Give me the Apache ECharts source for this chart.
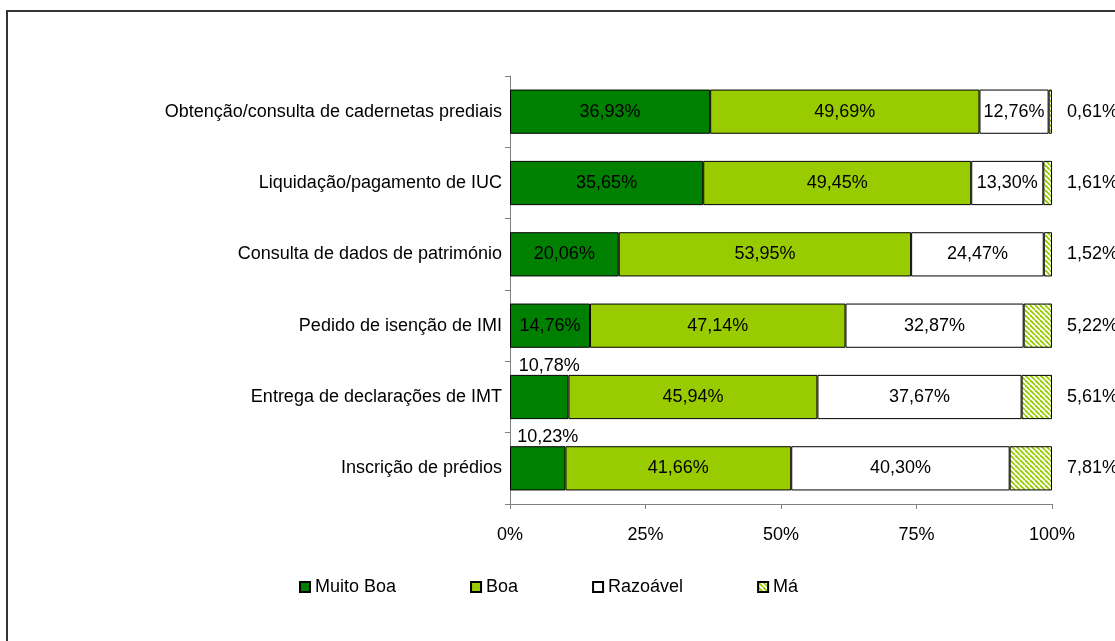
<!DOCTYPE html>
<html>
<head>
<meta charset="utf-8">
<script src="https://cdn.jsdelivr.net/npm/echarts@6/dist/echarts.min.js"></script>
<style>
    html, body { margin: 0; padding: 0; background: #fff; }
    #chart { width: 1115px; height: 641px; }
</style>
</head>
<body>
<div id="chart"></div>
<script>
const categories = [
    'Obtenção/consulta de cadernetas prediais',
    'Liquidação/pagamento de IUC',
    'Consulta de dados de património',
    'Pedido de isenção de IMI',
    'Entrega de declarações de IMT',
    'Inscrição de prédios'
]
const muitoBoa = [36.93, 35.65, 20.06, 14.76, 10.78, 10.23]
const boa = [49.69, 49.45, 53.95, 47.14, 45.94, 41.66]
const razoavel = [12.76, 13.30, 24.47, 32.87, 37.67, 40.30]
const ma = [0.61, 1.61, 1.52, 5.22, 5.61, 7.81]
const xTicks = [0, 25, 50, 75, 100]

const fontFamily = 'Liberation Sans, Arial, sans-serif'

// hatch pattern for "Má"
function hatch() {
    const s = 5
    const c = document.createElement('canvas')
    c.width = s
    c.height = s
    const ctx = c.getContext('2d')
    ctx.fillStyle = '#fff'
    ctx.fillRect(0, 0, s, s)
    ctx.strokeStyle = '#99cc00'
    ctx.lineWidth = 1.8
    for (let i = -s; i <= s; i += s) {
        ctx.beginPath()
        ctx.moveTo(i, 0)
        ctx.lineTo(i + s, s)
        ctx.stroke()
    }
    return { image: c, repeat: 'repeat' }
}

const fmt = (v) => v.toFixed(2).replace('.', ',') + '%'

const labelBase = {
    show: true,
    color: '#000',
    fontFamily: fontFamily,
    fontSize: 18,
    formatter: (p) => fmt(p.value)
}

// small segments get their label above the bar
const muitoBoaData = muitoBoa.map((v) => {
    if (v < 12) {
        return { value: v, label: { position: 'top', distance: 0, offset: [10, 0] } }
    }
    return v
})

const chart = echarts.init(document.getElementById('chart'))

const option = {
    animation: false,
    graphic: [{
        type: 'rect',
        shape: { x: 7, y: 11, width: 1300, height: 800 },
        style: { fill: 'none', stroke: '#333', lineWidth: 2 },
        z: -1
    }],
    legend: {
        left: 294,
        top: 573,
        icon: 'rect',
        itemWidth: 10,
        itemHeight: 10,
        itemGap: 74,
        textStyle: { fontFamily: fontFamily, fontSize: 18, color: '#000' },
        data: ['Muito Boa', 'Boa', 'Razoável', 'Má']
    },
    grid: {
        left: 510,
        right: 63,
        top: 76,
        bottom: 137
    },
    xAxis: {
        type: 'value',
        min: xTicks[0],
        max: xTicks[xTicks.length - 1],
        interval: 25,
        axisLine: { show: true, lineStyle: { color: '#808080', width: 1 } },
        axisTick: { show: true, length: 5, lineStyle: { color: '#808080' } },
        splitLine: { show: false },
        axisLabel: {
            margin: 22,
            color: '#000',
            fontFamily: fontFamily,
            fontSize: 18,
            formatter: '{value}%'
        }
    },
    yAxis: {
        type: 'category',
        inverse: true,
        data: categories,
        axisLine: { show: true, lineStyle: { color: '#808080', width: 1 } },
        axisTick: { show: true, length: 5, alignWithLabel: false, lineStyle: { color: '#808080' } },
        axisLabel: {
            margin: 8,
            color: '#000',
            fontFamily: fontFamily,
            fontSize: 18
        }
    },
    series: [
        {
            name: 'Muito Boa',
            type: 'bar',
            stack: 'total',
            barCategoryGap: '38%',
            itemStyle: { color: '#008000', borderColor: '#000', borderWidth: 1 },
            label: Object.assign({}, labelBase, { position: 'inside' }),
            data: muitoBoaData
        },
        {
            name: 'Boa',
            type: 'bar',
            stack: 'total',
            itemStyle: { color: '#99cc00', borderColor: '#000', borderWidth: 1 },
            label: Object.assign({}, labelBase, { position: 'inside' }),
            data: boa
        },
        {
            name: 'Razoável',
            type: 'bar',
            stack: 'total',
            itemStyle: { color: '#ffffff', borderColor: '#000', borderWidth: 1 },
            label: Object.assign({}, labelBase, { position: 'inside' }),
            data: razoavel
        },
        {
            name: 'Má',
            type: 'bar',
            stack: 'total',
            itemStyle: { color: hatch(), borderColor: '#000', borderWidth: 1 },
            label: Object.assign({}, labelBase, { position: 'right', distance: 15 }),
            data: ma
        }
    ]
}

chart.setOption(option)
</script>
</body>
</html>
